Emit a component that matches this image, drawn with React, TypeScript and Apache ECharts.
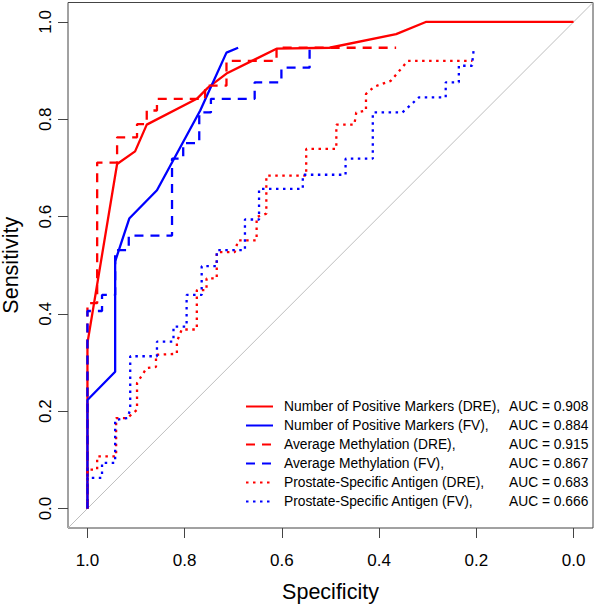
import React, { useEffect, useRef } from 'react';
import * as echarts from 'echarts';

// Series names and AUC values (legend)
const seriesNames = [
  'Number of Positive Markers (DRE)',
  'Number of Positive Markers (FV)',
  'Average Methylation (DRE)',
  'Average Methylation (FV)',
  'Prostate-Specific Antigen (DRE)',
  'Prostate-Specific Antigen (FV)',
];
const aucValues = ['0.908', '0.884', '0.915', '0.867', '0.683', '0.666'];

// Tick labels
const tickValues = [0, 0.2, 0.4, 0.6, 0.8, 1.0];

// ROC curves: specificity / sensitivity
const npmDreSpec = [1, 1, 0.939, 0.902, 0.878, 0.775, 0.752, 0.714, 0.611, 0.502, 0.365, 0.304, 0];
const npmDreSens = [0, 0.34, 0.708, 0.734, 0.789, 0.842, 0.865, 0.894, 0.945, 0.947, 0.975, 1.0, 1.0];

const npmFvSpec = [1, 1, 0.943, 0.943, 0.914, 0.857, 0.768, 0.714, 0.69];
const npmFvSens = [0, 0.223, 0.281, 0.508, 0.596, 0.654, 0.818, 0.937, 0.947];

const amDreSpec = [1, 1, 0.98, 0.98, 0.939, 0.939, 0.898, 0.898, 0.878, 0.878, 0.857, 0.857, 0.758, 0.758, 0.714, 0.714, 0.611, 0.611, 0.365];
const amDreSens = [0, 0.422, 0.422, 0.711, 0.711, 0.763, 0.763, 0.79, 0.79, 0.818, 0.818, 0.842, 0.842, 0.869, 0.869, 0.92, 0.92, 0.947, 0.947];

const amFvSpec = [1, 1, 0.97, 0.97, 0.943, 0.943, 0.915, 0.915, 0.826, 0.826, 0.803, 0.803, 0.77, 0.77, 0.746, 0.746, 0.656, 0.656, 0.601, 0.601, 0.543, 0.543];
const amFvSens = [0, 0.406, 0.406, 0.439, 0.439, 0.531, 0.531, 0.561, 0.561, 0.719, 0.719, 0.751, 0.751, 0.814, 0.814, 0.842, 0.842, 0.876, 0.876, 0.906, 0.906, 0.947];

const psaDreSpec = [1, 1, 0.98, 0.98, 0.941, 0.941, 0.918, 0.898, 0.898, 0.878, 0.859, 0.859, 0.816, 0.816, 0.806, 0.775, 0.775, 0.755, 0.755, 0.734, 0.734, 0.697, 0.69, 0.652, 0.652, 0.632, 0.632, 0.55, 0.55, 0.488, 0.488, 0.451, 0.447, 0.427, 0.427, 0.41, 0.376, 0.341, 0.208];
const psaDreSens = [0, 0.08, 0.08, 0.107, 0.107, 0.186, 0.186, 0.203, 0.258, 0.289, 0.291, 0.316, 0.318, 0.343, 0.368, 0.368, 0.449, 0.449, 0.473, 0.473, 0.527, 0.527, 0.551, 0.551, 0.599, 0.606, 0.684, 0.684, 0.739, 0.739, 0.789, 0.789, 0.814, 0.818, 0.852, 0.867, 0.879, 0.92, 0.92];

const psaFvSpec = [1, 1, 0.97, 0.97, 0.943, 0.943, 0.918, 0.912, 0.912, 0.857, 0.857, 0.823, 0.823, 0.796, 0.796, 0.765, 0.765, 0.734, 0.734, 0.676, 0.676, 0.647, 0.647, 0.557, 0.557, 0.469, 0.469, 0.413, 0.413, 0.352, 0.318, 0.263, 0.263, 0.236, 0.236, 0.209, 0.205];
const psaFvSens = [0, 0.063, 0.063, 0.094, 0.094, 0.182, 0.186, 0.203, 0.313, 0.313, 0.343, 0.343, 0.374, 0.374, 0.439, 0.439, 0.498, 0.498, 0.531, 0.531, 0.594, 0.594, 0.657, 0.657, 0.686, 0.686, 0.719, 0.719, 0.814, 0.814, 0.845, 0.845, 0.876, 0.876, 0.91, 0.91, 0.947];

// Reference diagonal (chance line)
const diagSpec = [1.04, -0.04];
const diagSens = [-0.04, 1.04];

const specArrays = [npmDreSpec, npmFvSpec, amDreSpec, amFvSpec, psaDreSpec, psaFvSpec];
const sensArrays = [npmDreSens, npmFvSens, amDreSens, amFvSens, psaDreSens, psaFvSens];

const zip = (a: number[], b: number[]) => a.map((v, i) => [v, b[i]]);

const FONT = '"Liberation Sans", Arial, Helvetica, sans-serif';
const colors = ['#ff0000', '#0000ff', '#ff0000', '#0000ff', '#ff0000', '#0000ff'];
const dash: any[] = ['solid', 'solid', [9, 7], [9, 7], [2.5, 4.5], [2.5, 4.5]];

export default function App() {
  const ref = useRef<HTMLDivElement>(null);
  useEffect(() => {
    if (!ref.current) return;
    const chart = echarts.init(ref.current, undefined, { renderer: 'svg' });
    const aucMap: Record<string, string> = {};
    seriesNames.forEach((n, i) => (aucMap[n] = aucValues[i]));

    const series: any[] = [
      {
        name: 'chance',
        type: 'line',
        data: zip(diagSpec, diagSens),
        showSymbol: false,
        symbol: 'none',
        lineStyle: { color: '#bebebe', width: 1 },
        silent: true,
        z: 1,
      },
    ];
    seriesNames.forEach((n, i) => {
      series.push({
        name: n,
        type: 'line',
        data: zip(specArrays[i], sensArrays[i]),
        showSymbol: false,
        symbol: 'none',
        lineStyle: { color: colors[i], width: 2.3, type: dash[i], cap: 'butt' },
        itemStyle: { color: colors[i] },
        z: 2 + i,
      });
    });

    const axisCommon = {
      type: 'value',
      min: -0.04,
      max: 1.04,
      splitLine: { show: false },
      axisLine: { show: false, onZero: false },
      axisTick: {
        show: true,
        customValues: tickValues,
        length: 10,
        lineStyle: { color: '#444', width: 1 },
      },
      nameTextStyle: { fontFamily: FONT, fontSize: 21.5, color: '#000' },
    };

    chart.setOption({
      animation: false,
      backgroundColor: '#ffffff',
      grid: {
        left: 68,
        top: 2.5,
        right: 4,
        bottom: 80,
        containLabel: false,
        outerBoundsMode: 'none',
        show: true,
        borderColor: '#444',
        borderWidth: 1,
        backgroundColor: 'transparent',
      },
      xAxis: {
        ...axisCommon,
        inverse: true,
        name: 'Specificity',
        nameLocation: 'middle',
        nameGap: 53,
        axisLabel: {
          customValues: tickValues,
          formatter: (v: number) => v.toFixed(1),
          fontFamily: FONT,
          fontSize: 17,
          color: '#000',
          margin: 24,
        },
      },
      yAxis: {
        ...axisCommon,
        name: 'Sensitivity',
        nameLocation: 'middle',
        nameGap: 46,
        axisLabel: {
          customValues: tickValues,
          formatter: (v: number) => v.toFixed(1),
          fontFamily: FONT,
          fontSize: 17,
          color: '#000',
          rotate: 90,
          margin: 14,
        },
      },
      legend: {
        data: seriesNames,
        orient: 'vertical',
        left: 245,
        top: 399.5,
        itemWidth: 27,
        itemHeight: 14,
        itemGap: 5,
        padding: 0,
        selectedMode: false,
        itemStyle: { opacity: 0, borderWidth: 0 },
        formatter: (name: string) => `{n|${name},}{a|AUC = ${aucMap[name]}}`,
        textStyle: {
          fontFamily: FONT,
          fontSize: 13.8,
          color: '#000',
          rich: {
            n: { width: 225, padding: [0, 0, 0, 6], fontFamily: FONT, fontSize: 13.8, color: '#000' },
            a: { fontFamily: FONT, fontSize: 13.8, color: '#000' },
          },
        },
      },
      series,
    });
    return () => chart.dispose();
  }, []);
  return (
    <div
      ref={ref}
      style={{ position: 'fixed', left: 0, top: 0, width: 597, height: 608, background: '#fff' }}
    />
  );
}
